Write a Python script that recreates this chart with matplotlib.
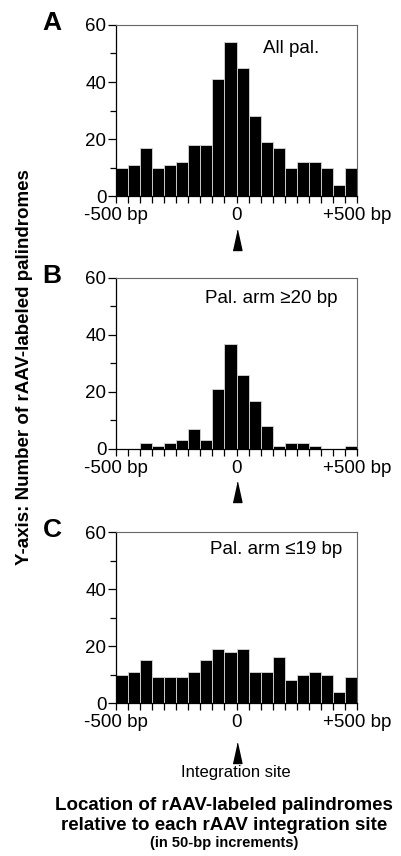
import matplotlib
matplotlib.use("Agg")
import matplotlib.pyplot as plt
import matplotlib.transforms as mtransforms
import numpy as np

plt.rcParams['font.family'] = ['Liberation Sans', 'DejaVu Sans']

# 50-bp bins from -500 to +500 bp
bin_edges = list(range(-500, 501, 50))
all_pal = [10, 11, 17, 10, 11, 12, 18, 18, 41, 54, 45, 28, 19, 17, 10, 12, 12, 10, 4, 10]
arm_ge20 = [0, 0, 2, 1, 2, 3, 7, 3, 21, 37, 26, 17, 8, 1, 2, 2, 1, 0, 0, 1]
arm_le19 = [10, 11, 15, 9, 9, 9, 11, 15, 19, 18, 19, 11, 11, 16, 8, 10, 11, 10, 4, 9]

panels = [
    ("A", all_pal, "All pal.", 0.61, 0.865),
    ("B", arm_ge20, "Pal. arm \u226520 bp", 0.37, 0.88),
    ("C", arm_le19, "Pal. arm \u226419 bp", 0.39, 0.895),
]
bottoms = [0.771, 0.4755, 0.1787]
arrow_y = [-0.315, -0.31, -0.35]

fig = plt.figure(figsize=(4.02, 8.56), dpi=100)
centers = np.array(bin_edges[:-1]) + 25
tri = [(-0.22, 0), (0.22, 0), (0, 1)]

for (letter, vals, label, tx, ty), b, ay in zip(panels, bottoms, arrow_y):
    ax = fig.add_axes([0.2886, b, 0.5995, 0.1998])
    ax.bar(centers, vals, width=50, color='black', edgecolor='#d8d8d8', linewidth=0.6)
    ax.set_xlim(-500, 500)
    ax.set_ylim(0, 60)
    ax.set_yticks([0, 20, 40, 60])
    ax.set_yticks([10, 30, 50], minor=True)
    ax.set_xticks(bin_edges, minor=True)
    ax.set_xticks([-500, 0, 500])
    ax.set_xticklabels(["-500 bp", "0", "+500 bp"])
    ax.tick_params(axis='both', which='both', direction='out', labelsize=13.5, width=0.9)
    ax.tick_params(axis='y', which='major', length=6, pad=1)
    ax.tick_params(axis='y', which='minor', length=4)
    ax.tick_params(axis='x', which='both', length=5, pad=3)
    for s in ['top', 'right']:
        ax.spines[s].set_color('#666666')
        ax.spines[s].set_linewidth(0.8)
    for s in ['left', 'bottom']:
        ax.spines[s].set_linewidth(0.9)
    ax.text(tx, ty, label, transform=ax.transAxes, fontsize=13.5, va='center', ha='left')
    ax.text(-0.265, 1.01, letter, transform=ax.transAxes, fontsize=19, fontweight='bold',
            va='center', ha='center')
    trans = mtransforms.blended_transform_factory(ax.transData, ax.transAxes)
    ax.plot([0], [ay], marker=tri, markersize=29, color='black', transform=trans,
            clip_on=False, linestyle='none')

fig.text(236 / 402, 1 - 773 / 856, "Integration site", ha='center', va='center', fontsize=12)
fig.text(224 / 402, 1 - 805 / 856, "Location of rAAV-labeled palindromes", ha='center',
         va='center', fontsize=13.5, fontweight='bold')
fig.text(224 / 402, 1 - 825 / 856, "relative to each rAAV integration site", ha='center',
         va='center', fontsize=13.5, fontweight='bold')
fig.text(224 / 402, 1 - 843 / 856, "(in 50-bp increments)", ha='center', va='center',
         fontsize=10.5, fontweight='bold')
fig.text(25 / 402, 1 - 367 / 856, "Y-axis: Number of rAAV-labeled palindromes", rotation=90,
         ha='center', va='center', fontsize=13.5, fontweight='bold')

fig.savefig("out.png", dpi=100)
